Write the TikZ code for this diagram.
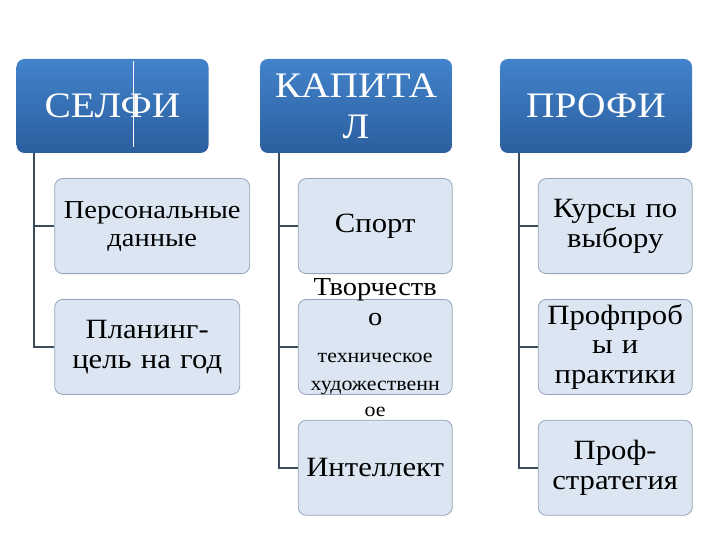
\documentclass[tikz,border=0pt]{standalone}
\usepackage{fontspec}
\setmainfont[FakeStretch=1.1]{Liberation Serif}
\usetikzlibrary{positioning}
\definecolor{headtop}{RGB}{66,131,203}
\definecolor{headbot}{RGB}{43,94,158}
\definecolor{itemfill}{RGB}{220,230,242}
\definecolor{itemline}{RGB}{150,165,185}
\definecolor{linkgray}{RGB}{60,75,92}

\begin{document}
\begin{tikzpicture}[x=1bp, y=-1bp, node distance=25bp and 38bp,
    head/.style={rectangle, rounded corners=8bp, minimum width=192bp, minimum height=94bp,
                 inner sep=0pt, text centered, text width=184bp,
                 top color=headtop, bottom color=headbot, text=white,
                 font=\fontsize{36}{41}\selectfont},
    item/.style={rectangle, rounded corners=8bp, minimum width=154bp, minimum height=95bp,
                 inner sep=0pt, text centered, text width=154bp,
                 draw=itemline, fill=itemfill, line width=0.8bp,
                 font=\fontsize{28}{30}\selectfont},
    link/.style={draw=linkgray, line width=2bp}]
\useasboundingbox (0,0) rectangle (720,540);

% Headers
\node (selfi) [head] at (112.5,106) {СЕЛФИ};
\node (kap)   [head] at (356,106)   {КАПИТА\\Л};
\node (prof)  [head] at (596,106)   {ПРОФИ};
\draw [white, line width=0.8bp] ([xshift=20.5bp,yshift=-2bp]selfi.north) -- ([xshift=20.5bp,yshift=6bp]selfi.south);

% Selfi column
\node (pers) [item, minimum width=195bp, text width=195bp, font=\fontsize{26}{28}\selectfont,
              below right=25bp and 38bp of selfi.south west] {Персональные\\данные};
\node (plan) [item, minimum width=185bp, text width=185bp, below right=25bp and 0bp of pers.south west]
    {Планинг-\\цель на год};

% Kapital column
\node (sport) [item, below right=25bp and 38bp of kap.south west] {Спорт};
\node (tvor)  [item, below=of sport]
    {\smash{\raisebox{-7bp}{\parbox[c]{154bp}{\centering\fontsize{26}{30}\selectfont Творчеств\\о\\[8bp]
     {\fontsize{20}{29}\selectfont техническое\\художественн\\[-4bp]ое}}}}};
\node (intel) [item, below=of tvor] {Интеллект};

% Profi column
\node (kurs)   [item, below right=25bp and 38bp of prof.south west] {Курсы по\\выбору};
\node (proba)  [item, below=of kurs] {Профпроб\\ы и\\практики};
\node (strat)  [item, below=of proba] {Проф-\\стратегия};

% Links
\draw [link] ([xshift=18bp]selfi.south west) |- (pers.west);
\draw [link] ([xshift=18bp]selfi.south west) |- (plan.west);
\draw [link] ([xshift=19bp]kap.south west) |- (sport.west);
\draw [link] ([xshift=19bp]kap.south west) |- (tvor.west);
\draw [link] ([xshift=19bp]kap.south west) |- (intel.west);
\draw [link] ([xshift=19bp]prof.south west) |- (kurs.west);
\draw [link] ([xshift=19bp]prof.south west) |- (proba.west);
\draw [link] ([xshift=19bp]prof.south west) |- (strat.west);
\end{tikzpicture}
\end{document}
